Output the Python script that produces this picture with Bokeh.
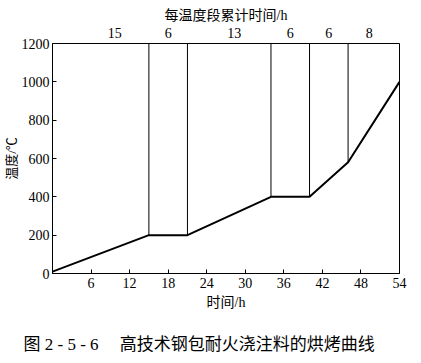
from bokeh.plotting import figure
from bokeh.models import Range1d, LinearAxis, FixedTicker, Title
from bokeh.embed import file_html
from bokeh.resources import INLINE

# ---- data ----
time_h = [0, 15, 21, 34, 40, 46, 54]
temp_c = [10, 200, 200, 400, 400, 580, 1000]
segment_hours = ["15", "6", "13", "6", "6", "8"]
segment_label_x = [9.7, 18, 28.3, 37, 43, 49.3]
x_ticks = [6, 12, 18, 24, 30, 36, 42, 48, 54]
y_ticks = [0, 200, 400, 600, 800, 1000, 1200]

FONT = "Liberation Serif, Noto Sans CJK SC"

p = figure(frame_width=347, frame_height=230, output_backend="svg", toolbar_location=None,
           x_range=Range1d(0, 54), y_range=Range1d(0, 1200),
           x_axis_location=None, y_axis_location=None,
           min_border_left=51, min_border_right=23, min_border_top=43, min_border_bottom=90)
p.grid.visible = False
p.outline_line_color = "black"
p.outline_line_width = 1
p.background_fill_color = "white"
p.border_fill_color = "white"

xa = LinearAxis(ticker=FixedTicker(ticks=x_ticks), axis_label="时间/h")
ya = LinearAxis(ticker=FixedTicker(ticks=y_ticks), axis_label="温度/℃")
for ax in (xa, ya):
    ax.major_tick_in = 4
    ax.major_tick_out = 0
    ax.minor_tick_line_color = None
    ax.axis_line_color = "black"
    ax.major_tick_line_color = "black"
    ax.major_label_text_font = FONT
    ax.major_label_text_font_size = "14px"
    ax.major_label_text_color = "black"
    ax.axis_label_text_font = FONT
    ax.axis_label_text_font_size = "14px"
    ax.axis_label_text_font_style = "normal"
    ax.axis_label_text_color = "black"
xa.major_label_standoff = 4
xa.axis_label_standoff = 4
ya.major_label_standoff = 3
ya.axis_label_standoff = 0
ya.axis_label_text_font_size = "13px"
p.add_layout(ya, "left")
p.add_layout(xa, "below")

# top axis carrying the duration of each stage
ta = LinearAxis(ticker=FixedTicker(ticks=segment_label_x),
                major_label_overrides={x: s for x, s in zip(segment_label_x, segment_hours)},
                axis_label="每温度段累计时间/h")
ta.major_tick_in = 0
ta.major_tick_out = 0
ta.minor_tick_line_color = None
ta.axis_line_color = None
ta.major_label_text_font = FONT
ta.major_label_text_font_size = "14px"
ta.major_label_text_color = "black"
ta.major_label_standoff = 6
ta.axis_label_text_font = FONT
ta.axis_label_text_font_size = "14px"
ta.axis_label_text_font_style = "normal"
ta.axis_label_text_color = "black"
ta.axis_label_standoff = 2
p.add_layout(ta, "above")

# caption
cap = Title(text="图 2 - 5 - 6\u00a0\u00a0\u00a0\u00a0\u00a0高技术钢包耐火浇注料的烘烤曲线", align="left",
            offset=-29, text_font=FONT, text_font_size="17px", text_font_style="normal",
            text_color="black", standoff=40)
p.add_layout(cap, "below")

# vertical boundaries of each temperature stage
bx = time_h[1:-1]
by = temp_c[1:-1]
p.segment(x0=bx, y0=by, x1=bx, y1=[1200] * len(bx), line_color="black", line_width=1)

# baking curve
p.line(time_h, temp_c, line_color="black", line_width=2)

open("out.html", "w").write(file_html(p, INLINE))
